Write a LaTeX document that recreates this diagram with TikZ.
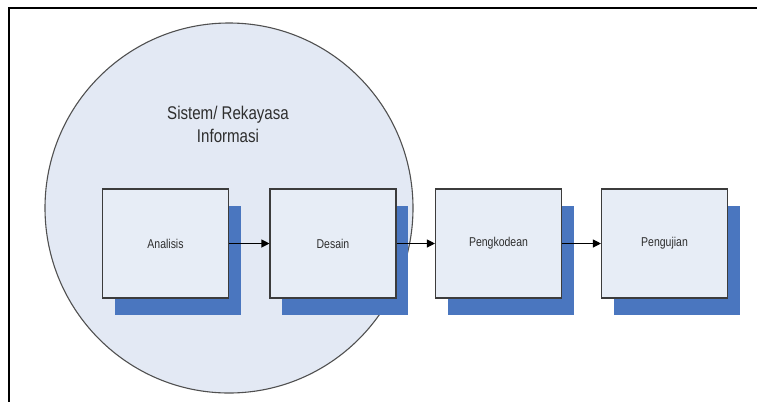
\documentclass[tikz,border=0pt]{standalone}
\usepackage{fontspec}
\setmainfont{Liberation Sans}
\usetikzlibrary{shapes.geometric,shadows,arrows.meta}

\definecolor{panelfill}{HTML}{E3E9F4}
\definecolor{boxfill}{HTML}{E7EDF6}
\definecolor{shadowblue}{HTML}{4A76BF}
\definecolor{edgegray}{HTML}{3C3C3C}
\definecolor{labelgray}{HTML}{2E2E2E}

% condensed lettering
\newcommand{\narrowtext}[1]{\scalebox{0.82}[1]{#1}}

\begin{document}
\begin{tikzpicture}[x=1pt,y=-1pt,
  stagebox/.style={rectangle, draw=edgegray, line width=1.1pt, fill=boxfill,
    minimum width=126pt, minimum height=109pt, inner sep=0pt,
    font=\fontsize{12.8}{15}\selectfont, text=labelgray,
    general shadow={fill=shadowblue, draw=none, shadow xshift=12pt, shadow yshift=-17pt}},
  flow/.style={-{Triangle[length=8pt,width=8pt]}, line width=1.1pt, black},
  frameline/.style={line width=2.2pt, black}]

\useasboundingbox (0,0) rectangle (757,402);

% outer frame (top and left edges)
\coordinate (ftr) at (757,8);
\coordinate (ftl) at (9,8);
\coordinate (fbl) at (9,402);
\draw[frameline] (ftr) -- (ftl) -- (fbl);

% system / information engineering area
\node[ellipse, draw=edgegray!90, line width=1.1pt, fill=panelfill,
      minimum width=368pt, minimum height=370pt, inner sep=0pt] (sysarea) at (229,208) {};
\node[align=center, font=\fontsize{18.4}{23}\selectfont, text=labelgray] (systitle) at (228,124)
  {\narrowtext{Sistem/ Rekayasa}\\\narrowtext{Informasi}};

% stages
\node[stagebox] (analisis) at (165.5,243.5) {\narrowtext{Analisis}};
\node[stagebox] (desain) at (333,243.5) {\narrowtext{Desain}};
\node[stagebox] (kode) at (498.5,243.5) {\narrowtext{Pengkodean}};
\node[stagebox] (uji) at (664.5,243.5) {\narrowtext{Pengujian}};

% flow between stages
\draw[flow] (analisis.east) -- (desain.west);
\draw[flow] (desain.east) -- (kode.west);
\draw[flow] (kode.east) -- (uji.west);
\end{tikzpicture}
\end{document}
